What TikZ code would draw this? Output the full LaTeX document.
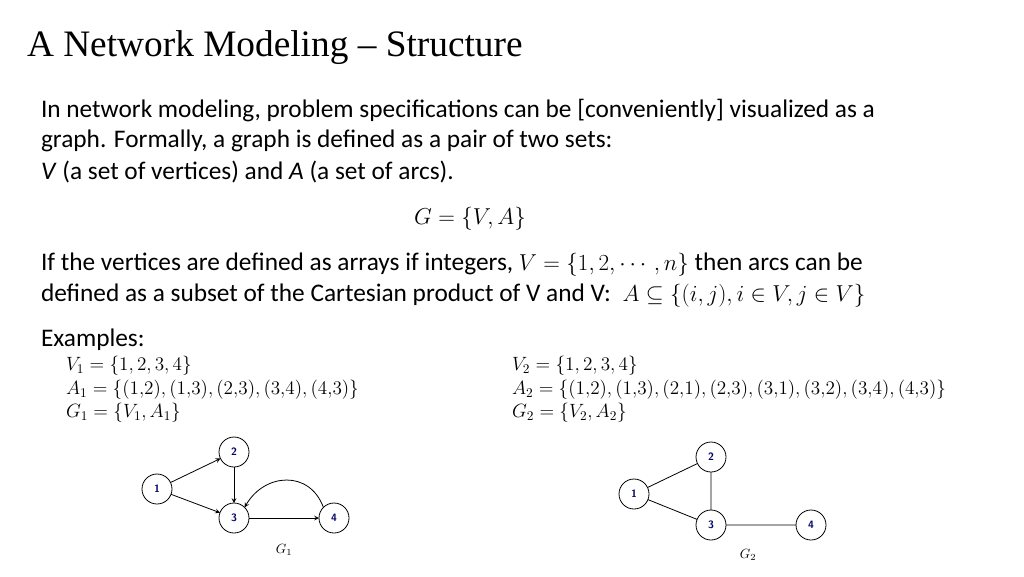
\documentclass[tikz,border=0pt]{standalone}
\usepackage{amsmath,amssymb}
\usepackage{fontspec}
\setmainfont{Carlito}
\newfontfamily\titlefont{Liberation Serif}
\usetikzlibrary{arrows,positioning}

\begin{document}
\begin{tikzpicture}[x=0.75pt,y=-0.75pt,every node/.style={outer sep=0pt}]
\tikzstyle{vertex}=[draw,semithick,circle,minimum size=22.5pt,inner sep=0pt,
font=\sffamily\bfseries\footnotesize,text=blue!40!black]
\tikzstyle{body}=[anchor=west,inner sep=0pt,font=\fontsize{19}{22}\selectfont]
\tikzstyle{small}=[anchor=west,inner sep=0pt,font=\fontsize{14}{17}\selectfont]
\tikzstyle{arc}=[semithick,-stealth]
\useasboundingbox (0,0) rectangle (1024,576);
%
\node (title) [anchor=west,inner sep=0pt,font=\titlefont\fontsize{28}{32}\selectfont] at (27,48) {A Network Modeling – Structure};
\node (l1) [body] at (41,111) {In network modeling, problem specifications can be [conveniently] visualized as a};
\node (l2) [body] at (41,141) {graph. Formally, a graph is defined as a pair of two sets:};
\node (l3) [body] at (41,172) {\emph{V} (a set of vertices) and \emph{A} (a set of arcs).};
\node (geq) [inner sep=0pt,font=\fontsize{19}{22}\selectfont] at (470,219) {$G=\{V,A\}$};
\node (l4) [body] at (41,265) {If the vertices are defined as arrays if integers, $V=\{1,2,\cdots,n\}$ then arcs can be};
\node (l5) [body] at (41,296) {defined as a subset of the Cartesian product of V and V:\ \ $A\subseteq\{(i,j),i\in V, j\in V\}$};
\node (ex) [body] at (41,340) {Examples:};
%
\node (v1) [small] at (66,366) {$V_1=\{1,2,3,4\}$};
\node (a1) [small] at (66,390) {$A_1=\{(1{,}2),(1{,}3),(2{,}3),(3{,}4),(4{,}3)\}$};
\node (g1) [small] at (66,413) {$G_1=\{V_1,A_1\}$};
\node (v2) [small] at (512,366) {$V_2=\{1,2,3,4\}$};
\node (a2) [small] at (512,390) {$A_2=\{(1{,}2),(1{,}3),(2{,}1),(2{,}3),(3{,}1),(3{,}2),(3{,}4),(4{,}3)\}$};
\node (g2) [small] at (512,413) {$G_2=\{V_2,A_2\}$};
%
\begin{scope}
\node (n1) [vertex] at (157,489) {1};
\node (n2) [vertex] at (234,452) {2};
\node (n3) [vertex] at (234,518) {3};
\node (n4) [vertex] at (334,518) {4};
\draw [arc] (n1) -- (n2);
\draw [arc] (n1) -- (n3);
\draw [arc] (n2) -- (n3);
\draw [arc] (n3) -- (n4);
\draw [arc] (n4.north west) to[out=110,in=60,looseness=1.3] (n3.north east);
\node (lab1) at (284,550) {$G_1$};
\end{scope}
%
\begin{scope}
\node (m1) [vertex] at (634,494) {1};
\node (m2) [vertex] at (711,457) {2};
\node (m3) [vertex] at (711,525) {3};
\node (m4) [vertex] at (811,525) {4};
\draw [semithick] (m1) -- (m2) (m1) -- (m3) (m2) -- (m3) (m3) -- (m4);
\node (lab2) at (748,555) {$G_2$};
\end{scope}
\end{tikzpicture}
\end{document}
